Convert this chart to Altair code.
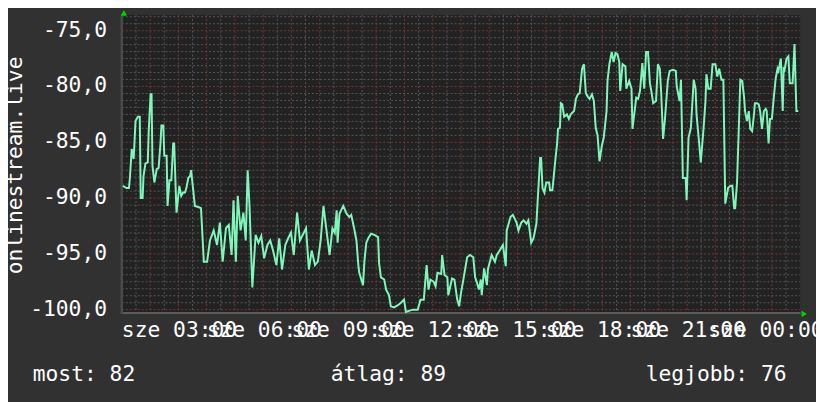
import altair as alt
import pandas as pd

# ---- data (minutes after midnight, values) ----
minutes_a = [2, 10, 15, 17, 21, 25, 29, 34, 38, 40, 44, 46, 50, 55, 57, 61, 63, 65, 69, 74,
             78, 82, 84, 88, 90, 95, 97, 101, 105, 109, 111, 116, 122, 126, 130, 134, 137, 141, 145, 147,
             151, 155, 162, 168]
values_a = [-88.9, -89.1, -89.1, -88.2, -85.6, -86.5, -83.1, -82.7, -82.7, -90.0,
            -90.0, -88.0, -86.9, -86.8, -84.0, -80.7, -80.7, -87.1, -88.6, -87.4,
            -87.3, -85.1, -83.5, -83.5, -86.2, -86.2, -90.7, -88.4, -88.4, -85.1,
            -85.1, -91.3, -88.9, -89.8, -89.5, -89.5, -89.1, -88.2, -88.0, -87.5,
            -89.1, -90.7, -90.8, -90.9]

minutes_b = [174, 181, 187, 195, 202, 208, 214, 221, 227, 233, 237, 242, 246, 252, 258, 263, 267, 271, 277, 284,
             290, 296, 302, 309, 315, 321, 328, 334, 340, 347, 353, 359, 365, 372, 378, 384, 391, 397, 403, 410,
             416, 422, 428, 435, 441, 447, 452]
values_b = [-95.7, -95.7, -93.8, -92.9, -94.2, -92.2, -95.7, -92.7, -92.4, -95.1,
            -90.2, -95.7, -89.8, -92.9, -91.3, -93.8, -87.5, -90.7, -98.0, -93.3,
            -94.0, -93.4, -95.4, -94.2, -93.8, -94.7, -96.0, -93.6, -96.4, -94.2,
            -93.6, -93.1, -95.1, -91.3, -93.8, -93.3, -92.7, -96.4, -94.7, -96.0,
            -95.7, -93.8, -90.7, -93.1, -95.1, -92.7, -93.1]

minutes_c = [456, 458, 462, 470, 477, 483, 487, 494, 498, 502, 504, 512, 515, 519, 523, 529, 536, 544, 546, 550,
             557, 561, 567, 571, 578, 586, 592, 599, 603, 617, 628, 634, 641, 647, 651, 655, 662, 666, 670, 678,
             680, 685, 691, 693, 701, 706, 712, 716, 720, 725, 733, 739, 746, 750, 754, 758, 762, 764, 769, 775,
             777, 785, 792, 796, 802, 809, 815, 817, 825, 830, 838, 842, 848, 853, 859, 863, 869, 874, 880, 884]
values_c = [-91.1, -94.0, -91.4, -90.7, -91.4, -91.7, -91.5, -92.9, -93.8, -96.0,
            -96.7, -97.8, -95.6, -94.0, -93.6, -93.2, -93.3, -93.5, -95.8, -97.1,
            -97.3, -98.2, -98.7, -99.7, -99.8, -99.6, -99.4, -99.1, -100.2, -100.0,
            -100.0, -99.1, -99.1, -96.0, -98.2, -97.3, -97.5, -97.9, -96.7, -96.8,
            -95.1, -96.9, -97.1, -98.7, -97.2, -97.3, -99.1, -99.7, -98.5, -97.3,
            -95.3, -95.1, -95.3, -97.1, -97.6, -98.2, -97.3, -98.7, -96.3, -97.8,
            -96.4, -95.1, -95.7, -95.1, -94.7, -94.2, -96.1, -92.9, -91.7, -91.5,
            -92.2, -92.9, -92.2, -92.0, -92.3, -92.0, -94.0, -93.6, -92.3, -89.3]

minutes_d = [888, 890, 893, 897, 901, 907, 909, 914, 920, 924,
             926, 930, 932, 935, 939, 945, 949, 953, 960, 964,
             968, 972, 977, 981, 985, 989, 993, 998, 1002, 1006,
             1010, 1014, 1019, 1023, 1029, 1031, 1035, 1040, 1044, 1048,
             1052, 1056, 1058, 1063, 1069, 1071, 1077, 1082, 1084, 1092,
             1096, 1100, 1105, 1109, 1113, 1117, 1121, 1124, 1128, 1134,
             1138, 1142, 1145, 1149, 1153, 1159, 1163, 1170, 1176, 1178,
             1184, 1187, 1191, 1197, 1199, 1203, 1208, 1214, 1218, 1220,
             1226, 1229, 1235, 1239, 1241, 1245, 1250, 1254, 1260, 1264,
             1268, 1273, 1277, 1281, 1287, 1292, 1296, 1300, 1302, 1306,
             1310, 1313, 1317, 1321, 1323, 1327, 1331, 1334, 1338, 1342,
             1344, 1348, 1352, 1355, 1359, 1363, 1367, 1369, 1373, 1376,
             1380, 1384, 1388, 1392, 1394, 1399, 1403, 1405, 1407, 1411,
             1415, 1418, 1424, 1428, 1432, 1436]
values_d = [-86.4, -86.4, -89.1, -89.5, -88.6, -88.6, -89.3, -89.3, -86.7, -85.1,
            -83.8, -83.7, -81.5, -81.6, -82.7, -82.5, -82.9, -82.5, -82.2, -81.1,
            -80.7, -80.6, -78.4, -78.0, -80.6, -80.9, -81.1, -80.7, -81.3, -83.7,
            -84.4, -86.7, -85.3, -84.6, -82.2, -79.5, -78.0, -76.9, -77.8, -77.0,
            -77.1, -77.8, -80.4, -78.0, -78.2, -80.2, -79.5, -80.2, -83.8, -81.0,
            -81.1, -80.4, -77.9, -80.2, -76.9, -76.9, -79.7, -80.4, -81.5, -81.3,
            -78.0, -78.4, -80.6, -84.7, -82.9, -79.5, -78.6, -78.5, -78.6, -80.0,
            -81.3, -79.4, -88.2, -88.2, -90.2, -84.6, -83.7, -79.4, -80.2, -82.5,
            -85.3, -86.8, -83.7, -81.3, -78.9, -80.2, -80.2, -78.0, -78.0, -79.1,
            -78.4, -79.4, -79.4, -90.5, -89.1, -88.9, -88.9, -90.9, -90.9, -88.6,
            -83.4, -79.4, -79.5, -81.0, -82.2, -83.1, -82.2, -83.8, -84.0, -82.5,
            -81.5, -81.5, -81.6, -82.2, -83.8, -82.2, -82.0, -82.2, -85.1, -82.9,
            -82.9, -81.0, -79.3, -78.4, -78.6, -77.5, -82.2, -78.4, -78.5, -77.5,
            -77.3, -79.7, -79.7, -76.2, -82.2, -82.2]

y_ticks = [-100, -95, -90, -85, -80, -75]
y_tick_labels = ["-100,0", "-95,0", "-90,0", "-85,0", "-80,0", "-75,0"]
x_label_minutes = [0, 180, 360, 540, 720, 900, 1080, 1245]
x_label_texts = ["sze 03:00", "sze 06:00", "sze 09:00", "sze 12:00",
                 "sze 15:00", "sze 18:00", "sze 21:00", "sze 00:00"]
y_title = "onlinestream.live"
legend_texts = ["most: 82", "átlag: 89", "legjobb: 76"]

for a, b in [(minutes_a, values_a), (minutes_b, values_b), (minutes_c, values_c), (minutes_d, values_d)]:
    assert len(a) == len(b), (len(a), len(b))

series = pd.DataFrame({
    "m": minutes_a + minutes_b + minutes_c + minutes_d,
    "v": values_a + values_b + values_c + values_d,
})

# ---- styling ----
FONT = "DejaVu Sans Mono"
FS = 21.5
W, H = 685, 302
BG = "#313131"
PLOT_BG = "#222222"
LINE = "#7ff7bb"
MINOR = "#575757"
MAJOR = "#7a3636"

xs = alt.Scale(domain=[0, 1440], nice=False, zero=False)
ys = alt.Scale(domain=[-100.38, -73.58], nice=False, zero=False)

minor_x = pd.DataFrame({"m": list(range(30, 1440, 60))})
major_x = pd.DataFrame({"m": list(range(60, 1440, 60))})
minor_y = pd.DataFrame({"v": [-73.75 - 0.625 * k for k in range(43) if (k % 8) != 2]})
major_y = pd.DataFrame({"v": y_ticks})

line = alt.Chart(series).mark_line(color=LINE, strokeWidth=2, clip=True).encode(
    x=alt.X("m:Q", scale=xs, axis=None),
    y=alt.Y("v:Q", scale=ys, axis=None),
    order="m:Q",
)

vminor = alt.Chart(minor_x).mark_rule(color=MINOR, strokeDash=[2, 2], strokeWidth=1).encode(
    x=alt.X("m:Q", scale=xs, axis=None), y=alt.value(0), y2=alt.value(H))
vmajor = alt.Chart(major_x).mark_rule(color=MAJOR, strokeDash=[2, 2], strokeWidth=1).encode(
    x=alt.X("m:Q", scale=xs, axis=None), y=alt.value(0), y2=alt.value(H))
hminor = alt.Chart(minor_y).mark_rule(color=MINOR, strokeDash=[2, 2], strokeWidth=1).encode(
    y=alt.Y("v:Q", scale=ys, axis=None), x=alt.value(0), x2=alt.value(W))
hmajor = alt.Chart(major_y).mark_rule(color=MAJOR, strokeDash=[2, 2], strokeWidth=1).encode(
    y=alt.Y("v:Q", scale=ys, axis=None), x=alt.value(0), x2=alt.value(W))

axis_b = alt.Chart(major_y).mark_rule(color="#5c5c5c", strokeWidth=2).encode(
    x=alt.value(0), x2=alt.value(W), y=alt.value(H - 1))
axis_l = alt.Chart(major_y).mark_rule(color="#4a4a4a", strokeWidth=2).encode(
    x=alt.value(0), y=alt.value(0), y2=alt.value(H))

arrow_up = alt.Chart(major_y).mark_point(shape="triangle-up", filled=True, size=28,
                                          color="#00d000", opacity=1).encode(
    x=alt.value(2), y=alt.value(-2))
arrow_right = alt.Chart(major_y).mark_point(shape="triangle-right", filled=True, size=28,
                                             color="#00d000", opacity=1).encode(
    x=alt.value(W + 4), y=alt.value(H))

ylabels = alt.Chart(pd.DataFrame({"v": y_ticks, "t": y_tick_labels})).mark_text(
    align="right", baseline="middle", font=FONT, fontSize=FS, color="#ffffff").encode(
    y=alt.Y("v:Q", scale=ys, axis=None), x=alt.value(-15), text="t:N")

xlabels = alt.Chart(pd.DataFrame({"m": x_label_minutes, "t": x_label_texts})).mark_text(
    align="left", baseline="alphabetic", font=FONT, fontSize=FS, color="#ffffff").encode(
    x=alt.X("m:Q", scale=xs, axis=None), y=alt.value(325), text="t:N")

ytitle = alt.Chart(pd.DataFrame({"t": [y_title]})).mark_text(
    angle=270, align="center", baseline="alphabetic", font=FONT, fontSize=FS,
    color="#ffffff").encode(x=alt.value(-101), y=alt.value(152), text="t:N")

leg = []
for txt, px in zip(legend_texts, [-90, 211, 529]):
    leg.append(alt.Chart(pd.DataFrame({"t": [txt]})).mark_text(
        align="left", baseline="alphabetic", font=FONT, fontSize=FS, color="#ffffff").encode(
        x=alt.value(px), y=alt.value(370), text="t:N"))

chart = alt.layer(
    hminor, vminor, hmajor, vmajor, axis_b, axis_l, line,
    arrow_up, arrow_right, ylabels, xlabels, ytitle, *leg
).properties(
    width=W, height=H, autosize="none",
    padding={"left": 115, "top": 5, "right": 16, "bottom": 87},
    background=BG,
).configure_view(fill=PLOT_BG, strokeWidth=0)

chart.save("out.html", embed_options={"renderer": "svg", "actions": False})
